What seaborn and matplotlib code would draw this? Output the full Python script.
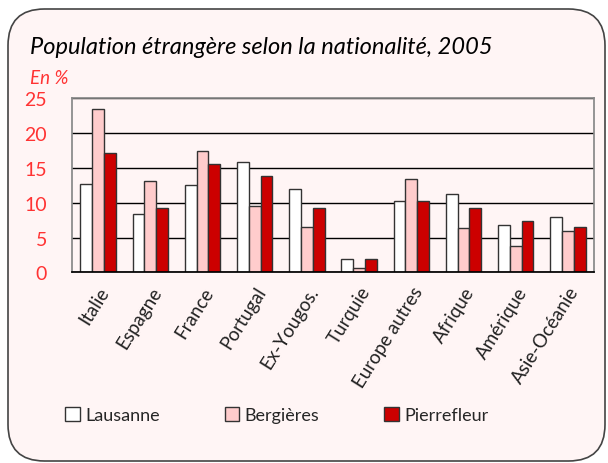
import pandas as pd
import matplotlib.pyplot as plt
import seaborn as sns
from matplotlib.patches import FancyBboxPatch, Patch

categories = ["Italie", "Espagne", "France", "Portugal", "Ex-Yougos.", "Turquie",
              "Europe autres", "Afrique", "Amérique", "Asie-Océanie"]
lausanne = [12.7, 8.4, 12.5, 15.8, 12.0, 1.9, 10.3, 11.2, 6.8, 7.9]
bergieres = [23.4, 13.1, 17.4, 9.5, 6.5, 0.6, 13.4, 6.3, 3.8, 6.0]
pierrefleur = [17.1, 9.2, 15.5, 13.8, 9.2, 1.9, 10.3, 9.2, 7.3, 6.5]
series = ["Lausanne", "Bergières", "Pierrefleur"]
colors = ["#FFFFFF", "#FFCCCC", "#CC0000"]
yticks = [0, 5, 10, 15, 20, 25]

df = pd.DataFrame({
    "Nationalité": categories * 3,
    "Valeur": lausanne + bergieres + pierrefleur,
    "Lieu": [s for s in series for _ in categories],
})

sns.set_theme(style="white")
plt.rcParams["font.family"] = ["Lato", "DejaVu Sans"]
bg = "#FFF5F5"

fig = plt.figure(figsize=(6.08, 4.64), dpi=100)
fig.patch.set_facecolor("white")
panel = FancyBboxPatch((8 / 608, 2 / 464), 597 / 608, 452 / 464,
                       boxstyle="round,pad=0,rounding_size=0.06",
                       transform=fig.transFigure, facecolor=bg,
                       edgecolor="#444444", linewidth=1.2, mutation_aspect=608 / 464,
                       zorder=-5)
fig.patches.append(panel)

ax = fig.add_axes([72 / 608, 1 - 273.3 / 464, 522 / 608, 174 / 464])
ax.set_zorder(2)
ax.set_facecolor(bg)
sns.barplot(data=df, x="Nationalité", y="Valeur", hue="Lieu", palette=colors,
            saturation=1, width=0.68, edgecolor="#333333", linewidth=1,
            ax=ax, legend=False)

ax.set_ylim(0, 25)
ax.set_yticks(yticks)
ax.set_yticklabels([str(t) for t in yticks], color="#FF3333", fontsize=14)
ax.yaxis.grid(True, color="black", linewidth=1)
ax.set_axisbelow(True)
ax.tick_params(axis="y", length=0, pad=18)
ax.tick_params(axis="x", length=0, pad=8)
ax.set_xticks(range(len(categories)))
ax.set_xticklabels(categories, rotation=58, ha="right", rotation_mode="anchor",
                   fontsize=13.5, color="#222222")
ax.set_xlabel("")
ax.set_ylabel("")
for side in ["top", "right", "left"]:
    ax.spines[side].set_color("#888888")
ax.spines["bottom"].set_color("black")

fig.text(30 / 608, 1 - 48 / 464, "Population étrangère selon la nationalité, 2005",
         fontsize=17, style="italic", va="center", ha="left", color="black")
fig.text(30 / 608, 1 - 78 / 464, "En %", fontsize=13.5, style="italic",
         va="center", ha="left", color="#FF3333")

handles = [Patch(facecolor=c, edgecolor="#333333", linewidth=1) for c in colors]
fig.legend(handles, series, loc="center", bbox_to_anchor=(277 / 608, 1 - 416 / 464),
           ncol=3, frameon=False, fontsize=13, handlelength=0.8, handleheight=0.8,
           handletextpad=0.3, columnspacing=3.6)

fig.savefig("out.png", dpi=100, facecolor=fig.get_facecolor())
